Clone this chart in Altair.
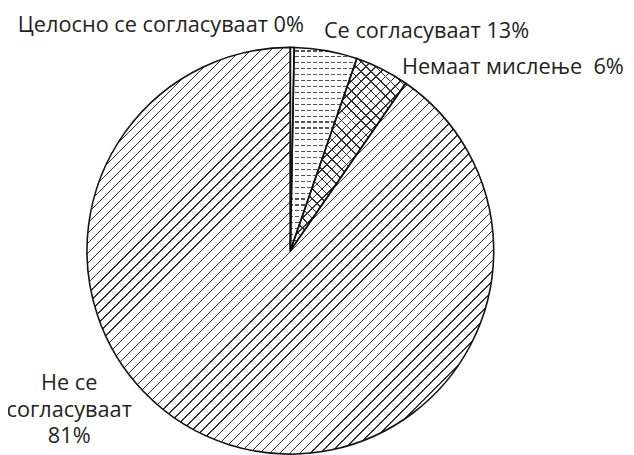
import math
import altair as alt
import pandas as pd

# ---- data ----
categories = ["Целосно се согласуваат", "Се согласуваат", "Немаат мислење", "Не се согласуваат"]
label_pct = [0, 13, 6, 81]            # percentages printed in the labels
drawn_share = [0.3, 5.0, 4.3, 90.4]   # slice sizes as drawn (percent of circle)

df = pd.DataFrame({"category": categories, "share": drawn_share, "order": list(range(len(categories)))})

# ---- layout / style ----
W, H = 626, 447
CX, CY, R = 286, 243, 206
FONT = "Open Sans"
FS = 22
TXT = "#231f20"
LINE = "#333333"


def wedge_bbox(a0, a1, r):
    """pixel bbox (w, h) of a pie wedge spanning angles a0..a1 (radians, clockwise from top)."""
    pts = [(0.0, 0.0), (r * math.sin(a0), -r * math.cos(a0)), (r * math.sin(a1), -r * math.cos(a1))]
    for k in range(0, 9):
        a = k * math.pi / 2
        if a0 <= a <= a1:
            pts.append((r * math.sin(a), -r * math.cos(a)))
    xs = [p[0] for p in pts]
    ys = [p[1] for p in pts]
    return max(xs) - min(xs), max(ys) - min(ys)


def stripes(kind, bw, bh, period, lw, color, bg):
    if kind == "/":
        c = (bw + bh) / (bw * bw + bh * bh)
        g = dict(x1=0, y1=0, x2=c * bw, y2=c * bh)
        L = (bw + bh) / math.sqrt(2)
    elif kind == "\\":
        c = (bw + bh) / (bw * bw + bh * bh)
        g = dict(x1=0, y1=1, x2=c * bw, y2=1 - c * bh)
        L = (bw + bh) / math.sqrt(2)
    elif kind == "-":
        g = dict(x1=0, y1=0, x2=0, y2=1)
        L = bh
    else:
        g = dict(x1=0, y1=0, x2=1, y2=0)
        L = bw
    stops = [{"offset": 0, "color": bg}]
    k = 0
    while True:
        o = (k * period + period / 2) / L
        e = o + lw / L
        if e >= 1:
            break
        stops += [{"offset": o, "color": bg}, {"offset": o, "color": color},
                  {"offset": e, "color": color}, {"offset": e, "color": bg}]
        k += 1
    stops.append({"offset": 1, "color": bg})
    return {"gradient": "linear", **g, "stops": stops}


# angles of each wedge (for the hatch geometry only)
cum = 0.0
bbox = {}
for cat, s in zip(categories, drawn_share):
    a0 = cum / 100 * 2 * math.pi
    cum += s
    a1 = cum / 100 * 2 * math.pi
    bbox[cat] = wedge_bbox(a0, a1, R)

base = alt.Chart(df).transform_window(
    end="sum(share)", sort=[alt.SortField("order")], frame=[None, 0]
).transform_calculate(start="datum.end - datum.share")

enc = dict(
    theta=alt.Theta("start:Q", scale=alt.Scale(domain=[0, 100])),
    theta2=alt.Theta2("end:Q"),
    x=alt.value(CX),
    y=alt.value(CY),
)


def wedge(cat, fill):
    return base.transform_filter(alt.datum.category == cat).mark_arc(
        outerRadius=R, fill=fill, strokeWidth=0
    ).encode(**enc)


c0, c1, c2, c3 = categories
layers = [
    wedge(c0, "white"),
    wedge(c1, stripes("-", *bbox[c1], 6, 1.2, "#555555", "white")),
    wedge(c1, stripes("|", *bbox[c1], 6, 2, "white", "rgba(255,255,255,0)")),
    wedge(c2, stripes("/", *bbox[c2], 7, 1.1, LINE, "white")),
    wedge(c2, stripes("\\", *bbox[c2], 7, 1.1, LINE, "rgba(255,255,255,0)")),
    wedge(c3, stripes("/", *bbox[c3], 7.2, 1.0, LINE, "white")),
    base.mark_arc(outerRadius=R, fillOpacity=0, stroke="#111111", strokeWidth=1.6).encode(**enc),
]

# ---- labels ----
labels = [f"{c} {p}%" for c, p in zip(categories, label_pct)]
labels[2] = f"{categories[2]}\u00a0 {label_pct[2]}%"
last_words = categories[3].split(" ")
labels[3] = f"{' '.join(last_words[:2])}\n{last_words[2]}\n{label_pct[3]}%"

label_pos = [(10, 21, "left"), (320, 28, "left"), (399, 64, "left"), (62, 384, "center")]
for txt, (lx, ly, al) in zip(labels, label_pos):
    layers.append(
        alt.Chart(df).transform_filter(alt.datum.order == 0).mark_text(
            align=al, baseline="alphabetic", font=FONT, fontSize=FS, color=TXT,
            lineBreak="\n", lineHeight=27,
        ).encode(text=alt.value(txt), x=alt.value(lx), y=alt.value(ly))
    )

chart = alt.layer(*layers).properties(
    width=W, height=H, padding=0,
    autosize=alt.AutoSizeParams(type="none"),
).configure_view(stroke=None)

chart.save("out.html", embed_options={"renderer": "svg", "actions": False})
